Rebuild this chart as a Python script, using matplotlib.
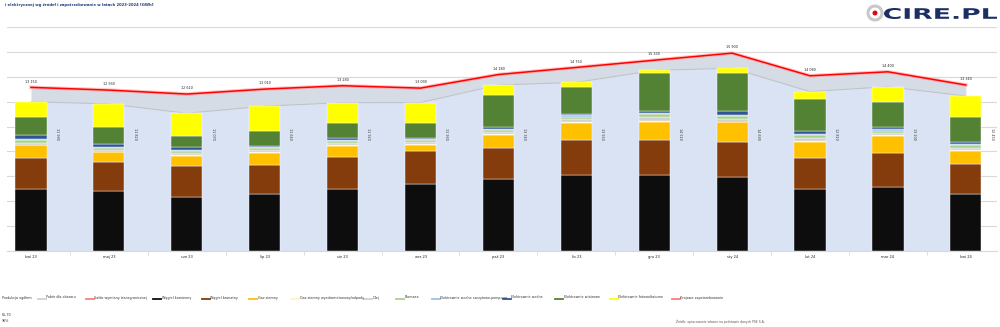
import numpy as np
import matplotlib.pyplot as plt
from matplotlib.lines import Line2D
from matplotlib.patches import Ellipse, PathPatch
from matplotlib.textpath import TextPath
from matplotlib.font_manager import FontProperties
from matplotlib.transforms import Affine2D

months = ['kwi 23', 'maj 23', 'cze 23', 'lip 23', 'sie 23', 'wrz 23', 'paź 23',
          'lis 23', 'gru 23', 'sty 24', 'lut 24', 'mar 24', 'kwi 24']

# produkcja wg zrodel [GWh]
wegiel_kam = [5010, 4800, 4350, 4560, 4960, 5360, 5760, 6110, 6110, 5970, 5010, 5150, 4560]
wegiel_brun = [2430, 2350, 2480, 2370, 2560, 2640, 2530, 2800, 2800, 2770, 2430, 2720, 2450]
gaz = [1040, 800, 830, 960, 910, 510, 1070, 1360, 1490, 1600, 1310, 1360, 1010]
pozostale = [60, 40, 60, 60, 80, 60, 60, 80, 80, 60, 100, 60, 80]
olej = [160, 160, 160, 150, 160, 180, 120, 240, 280, 240, 240, 200, 200]
biomasa = [240, 160, 160, 180, 200, 180, 200, 200, 220, 200, 200, 180, 200]
szczyt_pomp = [100, 80, 80, 80, 80, 60, 100, 100, 120, 120, 120, 120, 100]
wodne = [270, 200, 200, 110, 120, 110, 110, 100, 130, 310, 250, 160, 140]
wiatrowe = [1460, 1390, 910, 1170, 1250, 1150, 2560, 2190, 3040, 3070, 2560, 2000, 2000]
fotowolt = [1220, 1840, 1840, 2000, 1600, 1680, 830, 370, 240, 350, 590, 1250, 1710]

zapotrzebowanie = [13150, 12930, 12610, 13010, 13280, 13090, 14180, 14750, 15330,
                   15900, 14080, 14400, 13340]

stack = [
    ('Węgiel kamienny', wegiel_kam, '#0d0d0d'),
    ('Węgiel brunatny', wegiel_brun, '#843c0c'),
    ('Gaz ziemny', gaz, '#ffc000'),
    ('Gaz ziemny wysokometanowy/odpady', pozostale, '#fff2cc'),
    ('Olej', olej, '#d0d0d0'),
    ('Biomasa', biomasa, '#a9d18e'),
    ('Elektrownie wodne szczytowo-pompowe', szczyt_pomp, '#9dc3e6'),
    ('Elektrownie wodne', wodne, '#2f5597'),
    ('Elektrownie wiatrowe', wiatrowe, '#548235'),
    ('Elektrownie fotowoltaiczne', fotowolt, '#ffff00'),
]

W, H = 1000, 327
fig = plt.figure(figsize=(W / 100, H / 100), dpi=100)
ax = fig.add_axes([7 / W, 1 - 251 / H, 990 / W, 224 / H])

x = np.arange(len(months))
produkcja = np.sum([s[1] for s in stack], axis=0)

# tlo: produkcja (area) + roznica do zapotrzebowania
ax.fill_between(x, 0, produkcja, color='#dae3f3', lw=0, zorder=1)
ax.fill_between(x, produkcja, zapotrzebowanie, color='#d6dce5', lw=0, zorder=1)
ax.plot(x, produkcja, color='#bfc4cc', lw=0.8, zorder=1.5)

bottom = np.zeros(len(months))
for name, vals, col in stack:
    ax.bar(x, vals, bottom=bottom, width=0.4, color=col, edgecolor='white',
           linewidth=0.3, zorder=3)
    bottom += np.array(vals)

ax.plot(x, zapotrzebowanie, color='#ff9999', lw=2.6, alpha=0.6, zorder=4)
ax.plot(x, zapotrzebowanie, color='#ff0000', lw=1.1, zorder=5)

for i in range(len(months)):
    ax.text(x[i], zapotrzebowanie[i] + 300, f'{zapotrzebowanie[i]:,}'.replace(',', ' '),
            ha='center', va='bottom', fontsize=2.4, color='#222222', zorder=6)
    ax.text(x[i] + 0.33, 9450, f'{produkcja[i]:,}'.replace(',', ' '),
            ha='center', va='center', rotation=270, fontsize=2.4, color='#333333', zorder=6)
    ax.text(x[i], -300, months[i], ha='center', va='top', fontsize=2.6, color='#222222')

ax.set_xlim(-0.308, 12.4)
ax.set_ylim(0, 18000)
ax.set_yticks(np.arange(0, 18001, 2000))
ax.set_yticklabels([])
ax.tick_params(axis='y', length=0)
ax.set_xticks(x)
ax.set_xticklabels([])
ax.tick_params(axis='x', which='major', length=0)
ax.set_xticks(x[:-1] + 0.5, minor=True)
ax.tick_params(axis='x', which='minor', length=3, color='#d9d9d9', width=0.6)
ax.grid(axis='y', color='#d9d9d9', lw=0.8, zorder=0)
ax.set_axisbelow(True)
for s in ['top', 'left', 'right']:
    ax.spines[s].set_visible(False)
ax.spines['bottom'].set_color('#d9d9d9')
ax.spines['bottom'].set_linewidth(0.8)

# tytul
fig.text(5 / W, 1 - 5 / H, 'i elektrycznej wg źródeł i zapotrzebowanie w latach 2023-2024 [GWh]',
         fontsize=2.7, fontweight='bold', color='#1f3d7a', va='center', ha='left')

# legenda (reczna, jak w oryginale)
legend_items = [
    (-7, 'Produkcja ogółem', None),
    (38, 'Pobór dla obszaru', '#d0d0d0'),
    (86, 'Saldo wymiany transgranicznej', '#ff7c80'),
    (153, 'Węgiel kamienny', '#0d0d0d'),
    (202, 'Węgiel brunatny', '#843c0c'),
    (249, 'Gaz ziemny', '#ffc000'),
    (291, 'Gaz ziemny wysokometanowy/odpady', '#fff2cc'),
    (364, 'Olej', '#d0d0d0'),
    (396, 'Biomasa', '#a9d18e'),
    (432, 'Elektrownie wodne szczytowo-pompowe', '#9dc3e6'),
    (503, 'Elektrownie wodne', '#2f5597'),
    (555, 'Elektrownie wiatrowe', '#548235'),
    (610, 'Elektrownie fotowoltaiczne', '#ffff00'),
    (672, 'Krajowe zapotrzebowanie', '#ff7c80'),
]
ly = 1 - 297.5 / H
for px, label, col in legend_items:
    if col is not None:
        fig.add_artist(Line2D([px / W, (px + 8) / W], [ly - 1 / H, ly - 1 / H], color=col, lw=1.3))
    fig.text((px + 8.5) / W, ly, label, fontsize=2.4, color='#333333', va='center', ha='left')

fig.text(1.5 / W, 1 - 315 / H, '65,70', fontsize=2.4, color='#333333', va='center')
fig.text(1.5 / W, 1 - 321 / H, '96%', fontsize=2.4, color='#333333', va='center')
fig.text(676 / W, 1 - 321.5 / H, 'Źródło: opracowanie własne na podstawie danych PSE S.A.',
         fontsize=2.2, color='#555555', va='center', ha='left')

# logo CIRE.PL
fig.add_artist(Ellipse((875 / W, 1 - 13 / H), 14 / W, 14 / H, facecolor='none',
                       edgecolor='#c8c8c8', lw=2.2))
fig.add_artist(Ellipse((875 / W, 1 - 13 / H), 5 / W, 5 / H, facecolor='#e30613',
                       edgecolor='none'))
tp = TextPath((0, 0), 'CIRE.PL', size=1, prop=FontProperties(family='DejaVu Sans', weight='bold'))
ext = tp.get_extents()
sx = (113 / W) / ext.width
sy = (11 / H) / ext.height
tr = Affine2D().translate(-ext.x0, -ext.y0).scale(sx, sy).translate(884 / W, 1 - 19 / H) + fig.transFigure
fig.add_artist(PathPatch(tp, transform=tr, facecolor='#1b2f63', edgecolor='none'))

plt.savefig('out.png', dpi=100)
